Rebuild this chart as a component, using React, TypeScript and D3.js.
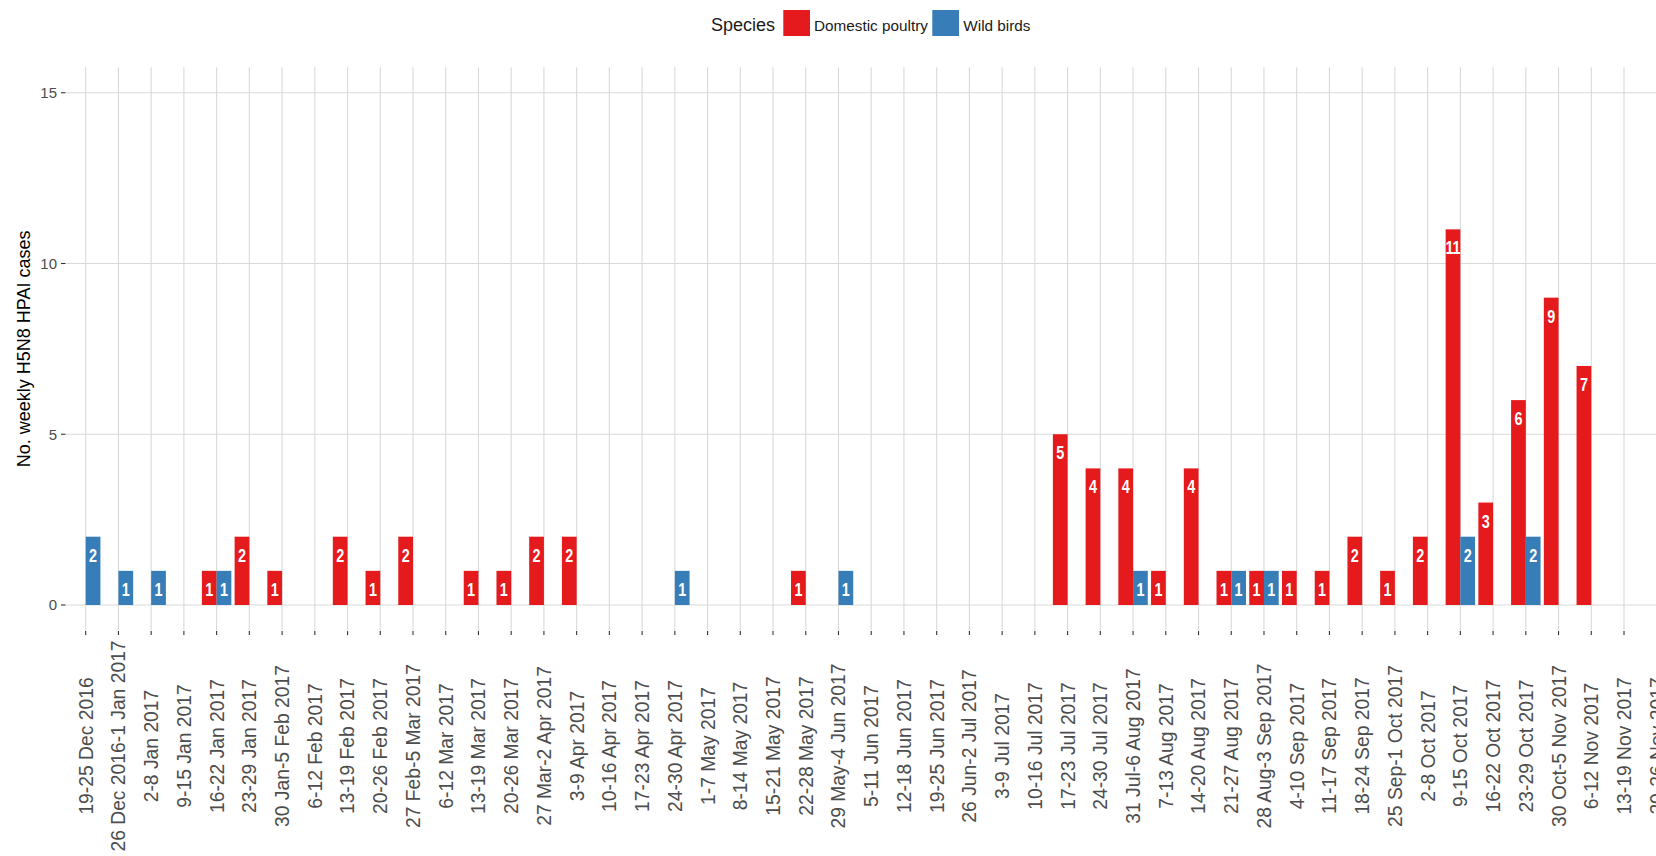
import React from 'react';
import * as d3 from 'd3';

const weeks = [
  '19-25 Dec 2016', '26 Dec 2016-1 Jan 2017', '2-8 Jan 2017', '9-15 Jan 2017', '16-22 Jan 2017',
  '23-29 Jan 2017', '30 Jan-5 Feb 2017', '6-12 Feb 2017', '13-19 Feb 2017', '20-26 Feb 2017',
  '27 Feb-5 Mar 2017', '6-12 Mar 2017', '13-19 Mar 2017', '20-26 Mar 2017', '27 Mar-2 Apr 2017',
  '3-9 Apr 2017', '10-16 Apr 2017', '17-23 Apr 2017', '24-30 Apr 2017', '1-7 May 2017',
  '8-14 May 2017', '15-21 May 2017', '22-28 May 2017', '29 May-4 Jun 2017', '5-11 Jun 2017',
  '12-18 Jun 2017', '19-25 Jun 2017', '26 Jun-2 Jul 2017', '3-9 Jul 2017', '10-16 Jul 2017',
  '17-23 Jul 2017', '24-30 Jul 2017', '31 Jul-6 Aug 2017', '7-13 Aug 2017', '14-20 Aug 2017',
  '21-27 Aug 2017', '28 Aug-3 Sep 2017', '4-10 Sep 2017', '11-17 Sep 2017', '18-24 Sep 2017',
  '25 Sep-1 Oct 2017', '2-8 Oct 2017', '9-15 Oct 2017', '16-22 Oct 2017', '23-29 Oct 2017',
  '30 Oct-5 Nov 2017', '6-12 Nov 2017', '13-19 Nov 2017', '20-26 Nov 2017',
];

const domesticPoultry = [
  0, 0, 0, 0, 1, 2, 1, 0, 2, 1,
  2, 0, 1, 1, 2, 2, 0, 0, 0, 0,
  0, 0, 1, 0, 0, 0, 0, 0, 0, 0,
  5, 4, 4, 1, 4, 1, 1, 1, 1, 2,
  1, 2, 11, 3, 6, 9, 7, 0, 0,
];

const wildBirds = [
  2, 1, 1, 0, 1, 0, 0, 0, 0, 0,
  0, 0, 0, 0, 0, 0, 0, 0, 1, 0,
  0, 0, 0, 1, 0, 0, 0, 0, 0, 0,
  0, 0, 1, 0, 0, 1, 1, 0, 0, 0,
  0, 0, 2, 0, 2, 0, 0, 0, 0,
];

const species = ['Domestic poultry', 'Wild birds'];
const speciesColors = ['#E41A1C', '#377EB8'];
const yTicks = [0, 5, 10, 15];

const FONT = '"Liberation Sans", Arial, sans-serif';

export default function App() {
  const W = 1656;
  const H = 856;
  const panelLeft = 66.06;
  const step = 32.73;
  const panelRight = panelLeft + (weeks.length + 0.2) * step;

  const x = d3.scaleBand<string>().domain(weeks).range([panelLeft, panelRight]).paddingInner(0.1).paddingOuter(0.15);
  const xSub = d3.scaleBand<string>().domain(species).range([0, x.bandwidth()]);
  const y = d3.scaleLinear().domain([0, 15]).range([605, 92.75]);
  const yBottom = y(-0.75);
  const yTop = y(15.75);
  const cx = (w: string) => (x(w) as number) + x.bandwidth() / 2;

  const series = [domesticPoultry, wildBirds];

  return (
    <svg width={W} height={H} style={{ position: 'absolute', left: 0, top: 0, display: 'block', background: '#fff' }}>
      <rect x={0} y={0} width={W} height={H} fill="#fff" />
      {/* grid */}
      <g>
        {yTicks.map((t) => (
          <line key={'hy' + t} x1={panelLeft} x2={W} y1={y(t)} y2={y(t)} stroke="#D9D9D9" strokeWidth={1.1} />
        ))}
        {weeks.map((w) => (
          <line key={'vx' + w} x1={cx(w)} x2={cx(w)} y1={yTop} y2={yBottom} stroke="#D9D9D9" strokeWidth={1.1} />
        ))}
      </g>
      {/* bars */}
      <g>
        {series.map((vals, si) =>
          vals.map((v, i) =>
            v > 0 ? (
              <rect
                key={'b' + si + '-' + i}
                x={(x(weeks[i]) as number) + (xSub(species[si]) as number)}
                y={y(v)}
                width={xSub.bandwidth()}
                height={y(0) - y(v)}
                fill={speciesColors[si]}
              />
            ) : null
          )
        )}
      </g>
      {/* bar labels */}
      <g>
        {series.map((vals, si) =>
          vals.map((v, i) =>
            v > 0 ? (
              <text
                key={'t' + si + '-' + i}
                transform={`translate(${(x(weeks[i]) as number) + (xSub(species[si]) as number) + xSub.bandwidth() / 2}, ${y(v) + 18.5}) scale(0.8, 1)`}
                dy="0.36em"
                textAnchor="middle"
                fill="#fff"
                fontWeight="bold"
                fontFamily={FONT}
                fontSize={18}
              >
                {v}
              </text>
            ) : null
          )
        )}
      </g>
      {/* y axis */}
      <g>
        {yTicks.map((t) => (
          <g key={'yt' + t}>
            <line x1={61} x2={65.5} y1={y(t)} y2={y(t)} stroke="#333" strokeWidth={1.1} />
            <text x={57} y={y(t)} dy="0.36em" textAnchor="end" fill="#4D4D4D" fontFamily={FONT} fontSize={15}>
              {t}
            </text>
          </g>
        ))}
        <text
          transform={`translate(29.5, ${(yTop + yBottom) / 2}) rotate(-90)`}
          textAnchor="middle"
          fill="#000"
          fontFamily={FONT}
          fontSize={18}
        >
          No. weekly H5N8 HPAI cases
        </text>
      </g>
      {/* x axis */}
      <g>
        {weeks.map((w) => (
          <g key={'xt' + w}>
            <line x1={cx(w)} x2={cx(w)} y1={yBottom + 0.5} y2={yBottom + 4.5} stroke="#333" strokeWidth={1.1} />
            <text
              transform={`translate(${cx(w)}, 746) rotate(-90)`}
              dy="0.36em"
              textAnchor="middle"
              fill="#4D4D4D"
              fontFamily={FONT}
              fontSize={19.3}
            >
              {w}
            </text>
          </g>
        ))}
      </g>
      {/* legend */}
      <g>
        <text x={711} y={31.2} fill="#1A1A1A" fontFamily={FONT} fontSize={18}>
          Species
        </text>
        <rect x={783.3} y={10} width={26.7} height={26} fill={speciesColors[0]} />
        <text x={814} y={31} fill="#1A1A1A" fontFamily={FONT} fontSize={15.3}>
          {species[0]}
        </text>
        <rect x={932.3} y={10} width={26.7} height={26} fill={speciesColors[1]} />
        <text x={963.3} y={31} fill="#1A1A1A" fontFamily={FONT} fontSize={15.3}>
          {species[1]}
        </text>
      </g>
    </svg>
  );
}
